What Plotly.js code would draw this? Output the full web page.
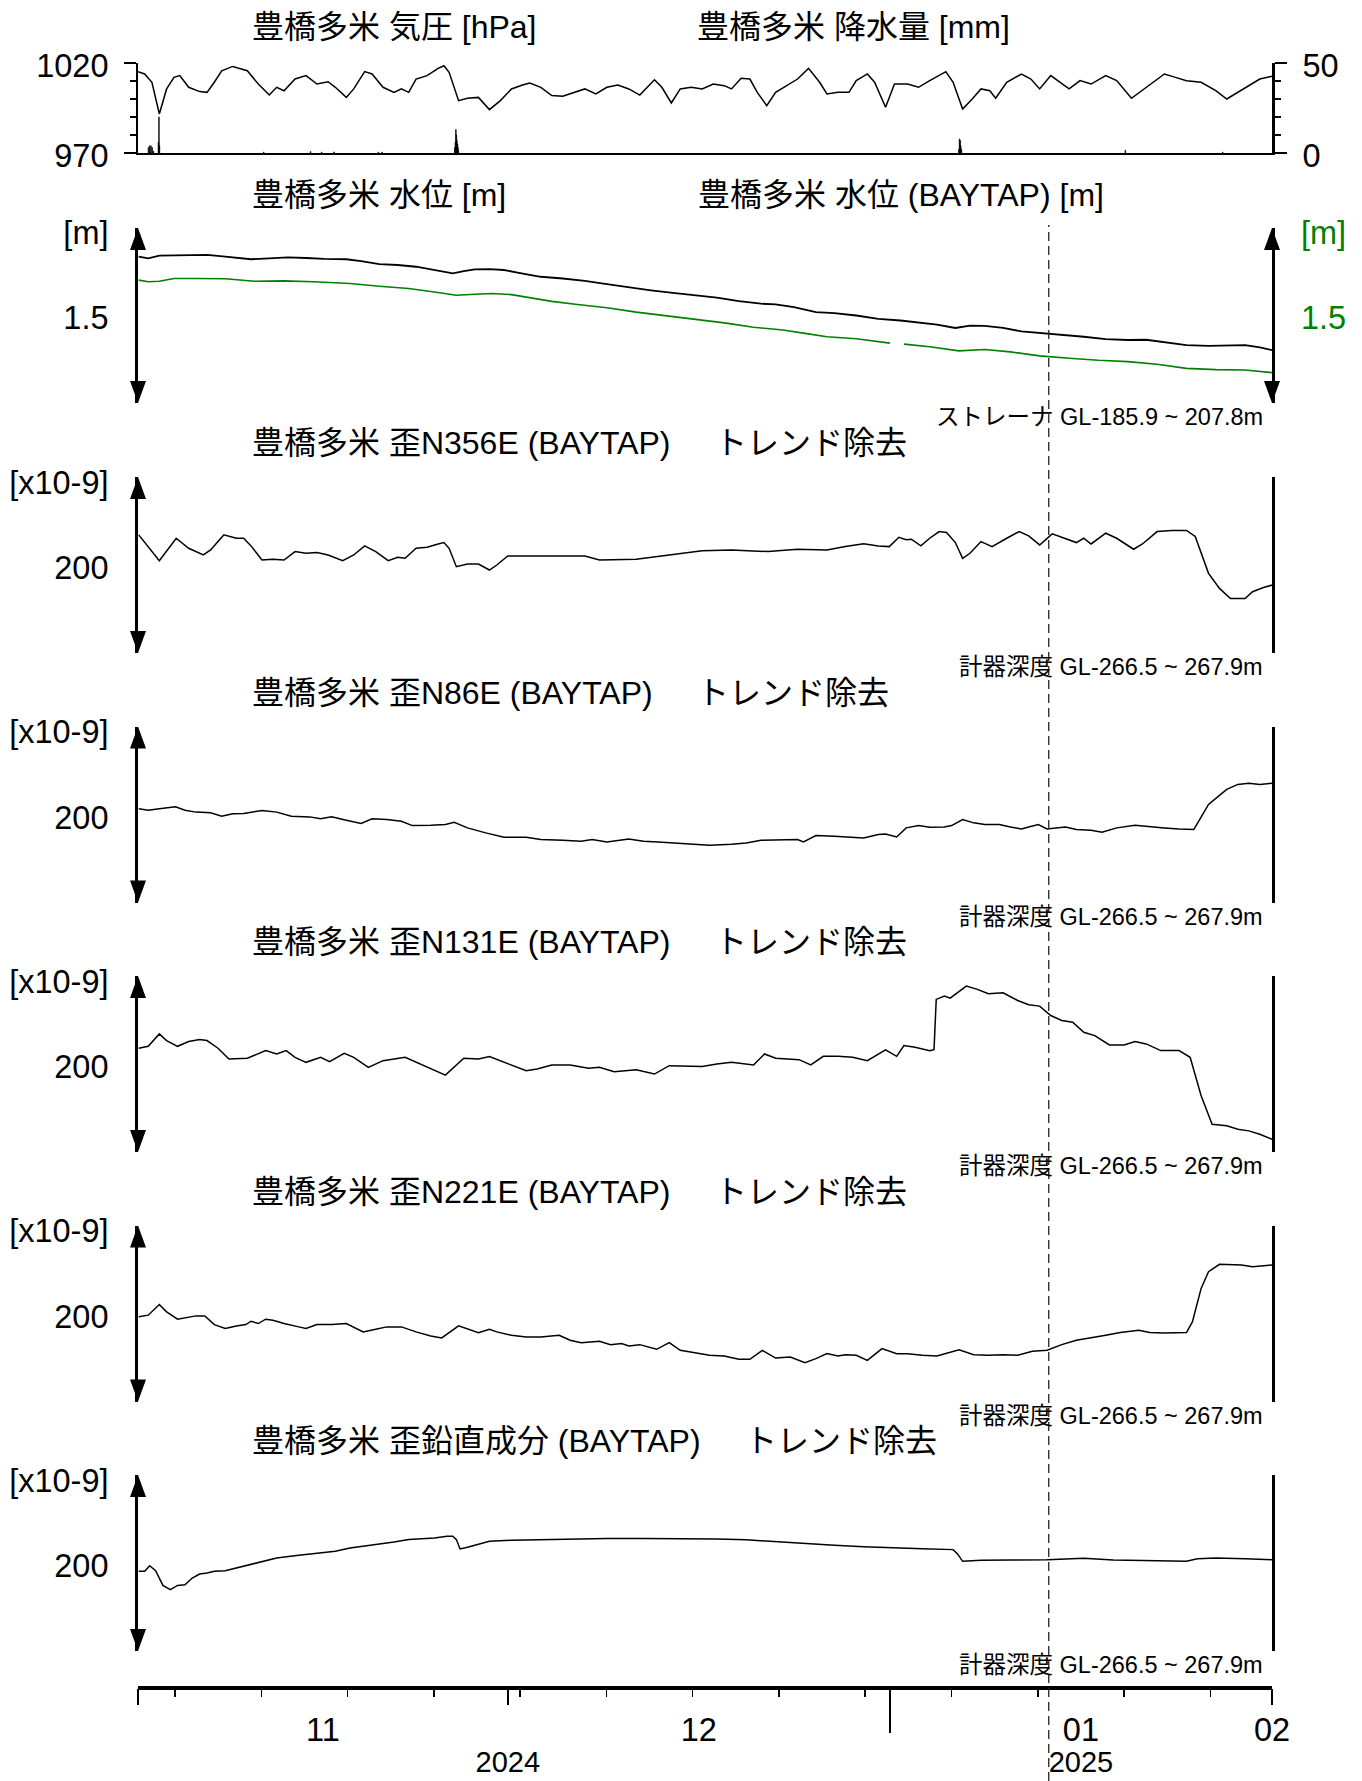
<!DOCTYPE html>
<html>
<head>
<meta charset="utf-8">
<script src="https://cdn.plot.ly/plotly-3.0.1.min.js"></script>
<style>html,body{margin:0;padding:0;background:#fff;}#chart{width:1362px;height:1781px;}</style>
</head>
<body>
<div id="chart"></div>
<script>
// ---------------- DATA (x = days after 2024-11-01 00:00 JST) ----------------
const startDate = '2024-11-01';
const endDate = '2025-02-01';
const quakeTime = '2025-01-13 21:19';

const pressDay = [0,0.54,1.13,1.73,2.32,2.92,3.39,4.11,5.0,5.6,
6.19,6.79,7.68,8.87,9.76,10.65,11.25,11.85,12.74,13.63,
14.52,15.42,16.01,16.9,17.5,18.39,18.99,19.88,20.77,21.37,
21.96,22.56,23.45,24.35,24.82,25.24,26.01,26.73,27.62,28.51,
29.4,30.3,31.19,31.79,32.68,33.57,34.46,35.36,36.25,37.14,
38.04,38.93,39.82,40.71,41.9,42.5,43.27,43.99,44.88,45.77,
46.67,47.56,48.15,48.93,49.64,50.24,51.01,51.73,52.62,53.51,
54.4,55.3,55.89,56.79,57.68,58.27,59.17,59.76,60.65,61.37,
62.44,63.33,64.23,65.0,65.54,66.13,66.9,67.68,68.39,69.11,
69.58,70.48,71.67,72.44,73.15,74.05,74.64,75.54,76.43,77.32,
78.51,79.4,80.6,81.79,82.68,83.27,84.17,85.06,86.25,87.44,
88.33,89.23,90.12,91.01,92.0];
const pressHpa = [1015.2,1013.9,1009.3,991.7,1005.6,1012.0,1013.0,1006.5,1004.1,1003.7,
1009.3,1015.7,1018.1,1015.7,1008.3,1002.2,1006.5,1004.6,1011.1,1013.0,
1008.3,1009.6,1006.5,1000.9,1005.6,1015.2,1013.9,1006.5,1003.7,1005.6,
1003.7,1011.1,1013.0,1017.0,1018.5,1014.8,999.1,1000.4,1000.9,994.1,
999.1,1005.6,1007.8,1008.9,1006.5,1001.9,1001.5,1003.7,1005.6,1002.8,
1006.5,1007.8,1005.6,1002.2,1010.7,1006.5,997.8,1005.6,1006.5,1005.6,
1008.3,1007.4,1005.6,1011.5,1011.1,1003.7,996.3,1003.7,1007.4,1011.1,
1017.0,1009.3,1002.8,1003.7,1003.7,1010.2,1013.9,1009.3,995.4,1008.3,
1008.3,1006.5,1010.2,1013.0,1015.2,1009.3,994.4,1000.0,1005.6,1004.6,
1000.4,1009.3,1013.9,1011.1,1005.6,1013.0,1010.2,1005.6,1010.2,1008.3,
1013.0,1010.2,1000.4,1006.5,1011.1,1013.9,1012.0,1010.2,1009.3,1004.6,
1000.0,1003.7,1007.4,1011.1,1012.6];

const rainDay = [0.85,0.95,1.05,1.15,1.25,1.66,1.70,1.74,10.2,14.0,
14.9,15.9,19.5,19.8,25.70,25.75,25.79,25.83,25.87,25.92,
25.96,26.0,66.60,66.65,66.70,66.75,66.80,80.1,88.0];
const rainMm = [3,4,4,3,1,6,20,4,0.5,0.8,
0.5,0.6,0.5,0.5,3,6,13,10,7,5,
3,1,2,7.8,7,4,2,1.5,0.5];

const levelDay = [0.06,0.83,1.73,2.92,4.11,5.6,7.08,9.17,10.65,12.14,
13.63,15.12,16.9,18.1,19.58,21.07,22.56,24.05,25.54,26.43,
27.32,28.51,29.7,30.89,32.68,34.46,36.25,38.04,39.82,41.61,
43.39,45.18,46.96,48.75,50.54,51.73,53.21,55.0,56.49,58.27,
60.06,61.85,63.63,64.82,66.31,67.5,68.69,70.18,71.67,73.45,
74.94,76.73,78.51,80.3,81.79,83.27,85.06,86.85,88.63,89.82,
91.01,92.02];
const levelM = [1.255,1.240,1.264,1.266,1.269,1.269,1.255,1.232,1.240,1.249,
1.243,1.235,1.232,1.217,1.191,1.183,1.168,1.140,1.111,1.131,
1.145,1.148,1.140,1.116,1.082,1.067,1.047,1.018,0.990,0.966,
0.943,0.923,0.903,0.874,0.851,0.845,0.822,0.779,0.770,0.750,
0.721,0.707,0.687,0.672,0.643,0.664,0.661,0.643,0.614,0.600,
0.586,0.568,0.548,0.540,0.542,0.519,0.496,0.490,0.496,0.496,
0.476,0.453];

const baytapDay = [0.06,0.83,1.73,2.92,4.7,7.08,9.46,11.85,14.23,17.2,
19.58,21.96,24.05,25.83,27.32,28.81,30.3,31.79,33.57,35.65,
38.04,40.42,42.8,45.18,47.56,49.94,52.32,54.11,55.89,58.27,
60.65,61.0,61.5,62.14,64.23,66.61,68.69,70.77,73.15,75.54,
77.92,80.3,82.68,85.06,87.44,89.82,92.02];
const baytapM = [1.053,1.039,1.044,1.067,1.067,1.065,1.044,1.047,1.039,1.024,
1.001,0.981,0.952,0.923,0.932,0.938,0.929,0.903,0.871,0.845,
0.816,0.779,0.750,0.721,0.687,0.649,0.626,0.597,0.568,0.551,
0.519,0.513,null,0.505,0.482,0.447,0.459,0.438,0.404,0.384,
0.366,0.355,0.332,0.297,0.286,0.283,0.260];

const n356Day = [0.06,1.73,3.10,4.11,5.30,5.89,6.96,7.98,8.57,9.17,
10.06,10.95,11.85,12.74,13.63,14.52,15.42,16.61,17.5,18.39,
19.29,20.3,21.07,21.67,22.56,23.45,24.35,24.82,25.24,25.83,
26.73,27.62,28.51,29.11,30.0,31.49,33.87,36.25,37.44,40.42,
42.2,43.99,45.77,48.15,51.13,53.51,55.89,57.38,58.87,60.06,
60.95,61.73,62.32,62.74,63.51,64.23,65.0,65.6,66.31,66.9,
67.5,68.39,69.29,70.48,71.49,72.26,73.15,74.17,75.24,76.13,
76.73,77.32,78.51,79.4,80.77,81.49,82.68,83.87,85.06,85.77,
86.85,87.74,88.63,89.82,90.42,91.31,92.02];
const n356Val = [134.2,104.9,130.4,119.0,111.4,117.1,134.2,130.4,130.4,121.7,
105.7,106.5,105.7,115.2,113.3,114.1,111.4,104.9,111.4,121.7,
115.2,104.9,108.7,107.6,119.0,120.1,123.9,125.5,119.0,98.1,
101.1,101.1,94.3,100.0,110.3,110.6,110.3,110.3,105.7,106.5,
109.5,112.5,116.3,117.1,115.2,117.9,117.1,120.9,124.0,121.7,
120.9,131.5,128.8,129.3,121.7,130.4,138.0,136.9,125.5,107.6,
113.3,126.6,120.9,130.4,138.0,133.1,122.8,135.4,130.4,125.5,
130.4,123.9,136.1,130.4,117.9,123.9,138.0,139.2,139.2,132.4,
90.5,73.4,62.0,62.0,69.6,74.5,77.2];

const n86Day = [0.06,0.83,1.73,2.62,3.04,3.81,4.70,5.89,6.79,7.68,
8.57,10.06,11.25,12.44,13.93,14.82,15.71,16.9,18.1,18.99,
20.18,21.37,22.26,23.75,24.94,25.65,26.73,28.21,29.7,31.49,
32.68,34.46,35.95,36.85,38.04,39.82,41.01,42.2,43.39,44.58,
46.37,48.15,49.35,50.54,52.32,53.51,53.99,55.0,56.49,58.27,
58.87,60.06,60.65,61.55,62.32,63.33,64.23,65.42,66.01,66.9,
67.8,68.69,69.88,70.77,71.67,72.26,73.04,73.75,75.24,76.13,
77.32,78.21,79.4,80.89,82.08,83.27,84.46,85.65,86.13,86.85,
87.74,88.33,89.23,90.12,91.01,92.02];
const n86Val = [106.5,104.9,106.5,107.6,108.7,104.9,102.7,101.9,98.1,100.8,
101.1,104.6,102.7,98.1,97.3,95.1,97.3,93.5,89.7,95.1,
94.3,92.4,87.4,87.8,88.6,91.2,84.8,79.1,74.1,74.1,
71.5,70.7,69.6,71.5,68.8,72.2,69.6,68.8,67.7,66.9,
65.0,66.2,67.7,70.7,71.5,71.5,68.8,76.0,75.3,74.1,
73.4,77.2,77.9,74.5,84.8,87.4,85.5,85.9,87.4,94.3,
90.5,88.6,88.6,85.9,83.6,85.9,88.6,83.6,85.9,82.9,
82.1,79.8,84.8,87.8,86.7,84.8,83.6,82.9,94.3,111.4,
121.7,128.5,134.2,135.4,134.2,135.4];

const n131Day = [0.06,0.83,1.73,2.32,3.21,4.11,5.0,5.6,6.49,7.38,
8.87,10.36,11.25,12.02,12.74,13.63,14.82,15.54,16.73,17.5,
18.69,19.88,21.67,22.86,23.75,24.94,26.43,27.62,28.51,29.7,
31.49,32.38,33.57,35.06,36.55,37.44,38.63,40.42,41.9,43.1,
44.58,45.77,46.96,48.15,49.94,50.83,51.73,52.92,53.63,54.58,
55.6,56.79,57.98,59.17,60.65,61.55,62.14,63.04,64.23,64.58,
64.76,65.42,65.89,67.2,68.1,68.99,70.18,71.37,72.26,73.15,
74.05,74.94,75.83,76.73,77.62,78.81,80.0,80.89,81.79,82.98,
84.46,85.36,86.25,87.14,88.33,89.23,90.12,91.01,92.02];
const n131Val = [117.9,120.1,134.2,126.6,120.1,125.5,127.7,126.6,117.9,105.7,
106.5,115.2,111.4,115.2,107.6,101.9,107.6,102.7,112.2,107.6,
96.2,103.8,107.6,100.0,94.3,87.4,106.5,105.7,108.4,101.9,
92.4,94.3,98.9,98.9,95.1,96.2,91.2,93.5,88.6,98.1,
97.3,97.3,100.0,101.9,98.9,111.4,106.5,105.7,104.9,98.9,
108.7,108.7,107.6,103.8,116.0,108.7,120.9,119.0,115.2,116.3,
173.4,177.2,174.9,188.6,184.8,179.8,181.0,172.2,167.3,165.8,
155.1,149.4,147.5,136.1,132.3,121.7,121.7,125.5,122.8,115.2,
115.2,107.6,63.9,31.6,29.7,25.9,24.0,20.2,14.4];

const n221Day = [0.06,0.83,1.73,2.32,3.21,4.11,4.70,5.42,6.19,7.08,
7.98,8.75,9.17,9.76,10.36,10.95,11.85,13.04,13.63,14.52,
15.71,16.9,17.5,18.27,19.29,20.18,21.37,22.56,23.75,24.64,
26.01,27.02,27.62,28.51,29.11,30.3,31.49,32.68,34.17,35.06,
35.95,37.44,38.33,39.23,39.82,40.71,42.08,43.1,43.99,45.18,
46.37,47.56,48.75,49.64,50.65,51.73,52.92,54.11,55.0,55.89,
56.79,57.38,58.27,59.17,60.36,61.55,62.44,63.63,64.82,66.61,
67.8,68.99,70.18,71.37,72.56,73.75,74.94,76.13,77.32,78.51,
79.7,81.19,82.08,83.27,85.06,85.54,86.25,86.85,87.74,88.63,
89.52,90.42,91.31,92.02];
const n221Val = [96.2,98.1,110.3,101.9,93.5,96.2,97.3,97.3,87.4,82.9,
85.9,87.4,91.2,88.6,93.5,92.4,88.6,84.8,82.9,87.4,
87.4,88.6,84.8,79.1,82.1,84.8,84.8,79.1,74.5,72.2,
85.9,81.0,78.3,82.1,79.1,75.3,73.4,73.4,75.3,69.6,
66.9,68.4,64.6,65.8,63.1,64.6,59.3,66.9,58.2,55.5,
52.5,51.7,47.9,47.9,58.2,49.4,50.6,44.1,48.7,54.4,
51.7,53.2,52.5,46.8,60.1,54.4,54.4,52.5,51.7,58.9,
53.2,52.5,53.2,52.5,57.0,58.2,64.6,69.6,72.2,75.3,
78.3,81.0,78.3,77.9,78.3,90.5,128.5,147.5,155.9,155.9,
155.1,153.2,154.0,155.1];

const vertDay = [0.06,0.54,0.95,1.43,2.02,2.62,3.21,3.81,4.40,5.0,
5.6,6.19,7.08,7.98,8.87,10.06,11.25,13.04,14.82,16.01,
17.2,18.99,20.77,21.96,23.15,24.05,25.06,25.54,25.83,26.13,
26.73,27.62,28.51,30.3,32.68,35.06,38.04,41.01,43.99,46.96,
49.35,51.73,54.11,56.49,58.87,61.25,63.63,66.13,66.49,66.9,
68.39,70.77,73.75,76.73,79.11,81.49,83.87,85.06,85.95,87.44,
89.82,92.02];
const vertVal = [90.5,90.5,96.9,91.2,74.5,69.6,74.5,75.3,82.9,87.4,
88.6,90.5,91.2,94.3,98.1,101.9,105.7,108.7,111.4,113.3,
117.1,120.1,123.9,126.6,127.7,128.5,130.4,130.4,126.6,116.0,
117.9,121.7,124.7,125.8,126.6,127.4,127.7,127.7,127.7,127.4,
126.3,124.0,121.7,120.1,118.6,117.1,116.3,115.2,110.3,101.9,
103.0,103.4,103.8,105.3,103.4,102.7,101.9,101.9,104.9,105.7,
104.9,103.8];

// tick / label texts
const monthLabelAt = ['2024-11-16', '2024-12-16 12:00', '2025-01-16 12:00', '2025-02-01'];
const monthLabels = ['11', '12', '01', '02'];
const yearLabelAt = ['2024-12-01', '2025-01-16 12:00'];
const yearLabels = ['2024', '2025'];
const monthStarts = ['2024-11-01', '2024-12-01', '2025-02-01'];
const yearStarts = ['2025-01-01'];
const strainTitles = ['豊橋多米 歪N356E (BAYTAP)', '豊橋多米 歪N86E (BAYTAP)', '豊橋多米 歪N131E (BAYTAP)',
                      '豊橋多米 歪N221E (BAYTAP)', '豊橋多米 歪鉛直成分 (BAYTAP)'];
const trendText = 'トレンド除去';
const depthText = '計器深度 GL-266.5 ~ 267.9m';
const strainerText = 'ストレーナ GL-185.9 ~ 207.8m';

// ---------------- LAYOUT HELPERS ----------------
const W = 1362, H = 1781;
const XL = 138, XR = 1272;
const px = p => p / W;
const py = p => 1 - p / H;
const ydom = (top, bot) => [py(bot), py(top)];
const XD = [px(XL), px(XR)];
const T0 = Date.UTC(2024, 10, 1);
const toDate = d => new Date(T0 + Math.round(d * 1440) * 60000).toISOString().slice(0, 16).replace('T', ' ');
const FONT = '"Liberation Sans", Arial, "Noto Sans CJK JP", sans-serif';
const GREEN = 'rgb(0,128,0)';
const RANGE = [startDate, endDate];
const TICKF = 32.5, TITLEF = 32, SMALLF = 23.5;

const pTop = 63, pBot = 153;
const wTop = 228, wBot = 403;
const sTops = [477, 726.5, 976, 1225.5, 1475];
const sH = 176;
const axisY = 1688;

// ---------------- TRACES ----------------
function line(days, vals, xa, ya, color, width) {
  return {type: 'scatter', mode: 'lines', x: days.map(toDate), y: vals, xaxis: xa, yaxis: ya,
          line: {color: color, width: width}, hoverinfo: 'skip', showlegend: false, connectgaps: false};
}
const traces = [
  {type: 'bar', x: rainDay.map(toDate), y: rainMm, xaxis: 'x2', yaxis: 'y2', width: 3600000 * 1.3,
   marker: {color: 'black', line: {color: 'black', width: 0.6}}, hoverinfo: 'skip', showlegend: false},
  line(pressDay, pressHpa, 'x2', 'y', 'black', 1.5),
  line(levelDay, levelM, 'x', 'y3', 'black', 1.8),
  line(baytapDay, baytapM, 'x', 'y4', GREEN, 1.6),
  line(n356Day, n356Val, 'x', 'y5', 'black', 1.5),
  line(n86Day, n86Val, 'x', 'y6', 'black', 1.5),
  line(n131Day, n131Val, 'x', 'y7', 'black', 1.5),
  line(n221Day, n221Val, 'x', 'y8', 'black', 1.5),
  line(vertDay, vertVal, 'x', 'y9', 'black', 1.5)
];
['x3', 'x4', 'x5', 'x6'].forEach(xa => traces.push({type: 'scatter', mode: 'lines', x: [], y: [], xaxis: xa, yaxis: 'y9', hoverinfo: 'skip', showlegend: false}));

// ---------------- AXES ----------------
const layout = {
  width: W, height: H, margin: {l: 0, r: 0, t: 0, b: 0}, showlegend: false,
  paper_bgcolor: 'white', plot_bgcolor: 'rgba(0,0,0,0)',
  font: {family: FONT, size: TICKF, color: 'black'},
  bargap: 0,
  xaxis: {type: 'date', domain: XD, range: RANGE, anchor: 'free', position: py(axisY),
          showline: true, linewidth: 4, linecolor: 'black', ticks: '', tickmode: 'array',
          tickvals: monthLabelAt, ticktext: monthLabels, ticklabelstandoff: 12,
          showgrid: false, zeroline: false, fixedrange: true},
  xaxis2: {type: 'date', domain: XD, range: RANGE, matches: 'x', anchor: 'y', showline: true, linewidth: 2,
           linecolor: 'black', ticks: '', showticklabels: false, showgrid: false, zeroline: false},
  xaxis3: {type: 'date', range: RANGE, overlaying: 'x', anchor: 'free', position: py(axisY),
           tickmode: 'array', tickvals: monthStarts, ticks: 'outside', ticklen: 16, tickwidth: 1.5,
           tickcolor: 'black', showticklabels: false, showline: false, showgrid: false, zeroline: false},
  xaxis4: {type: 'date', range: RANGE, overlaying: 'x', anchor: 'free', position: py(axisY),
           tickmode: 'linear', tick0: '2024-11-04', dtick: 7 * 86400000, ticks: 'outside', ticklen: 8,
           tickwidth: 1.5, tickcolor: 'black', showticklabels: false, showline: false, showgrid: false, zeroline: false},
  xaxis5: {type: 'date', range: RANGE, overlaying: 'x', anchor: 'free', position: py(axisY),
           tickmode: 'array', tickvals: yearStarts, ticks: 'outside', ticklen: 44, tickwidth: 1.5,
           tickcolor: 'black', showticklabels: false, showline: false, showgrid: false, zeroline: false},
  xaxis6: {type: 'date', range: RANGE, overlaying: 'x', anchor: 'free', position: py(axisY),
           tickmode: 'array', tickvals: yearLabelAt, ticktext: yearLabels, ticks: '', ticklabelstandoff: 54,
           tickfont: {size: 29}, showline: false, showgrid: false, zeroline: false},
  yaxis: {domain: ydom(pTop, pBot), range: [970, 1020], anchor: 'x2', tickmode: 'array', tickvals: [970, 1020],
          ticks: 'outside', ticklen: 12, tickwidth: 1.5, tickcolor: 'black', showline: true, linewidth: 2,
          linecolor: 'black', minor: {ticks: 'outside', ticklen: 6, dtick: 10, tickwidth: 1.5, tickcolor: 'black', showgrid: false},
          ticklabelshift: 3, ticklabelstandoff: 9, showgrid: false, zeroline: false},
  yaxis2: {overlaying: 'y', side: 'right', anchor: 'x2', range: [0, 50], tickmode: 'array', tickvals: [0, 50],
           ticks: 'outside', ticklen: 12, tickwidth: 1.5, tickcolor: 'black', showline: true, linewidth: 3,
           linecolor: 'black', minor: {ticks: 'outside', ticklen: 6, dtick: 10, tickwidth: 1.5, tickcolor: 'black', showgrid: false},
           ticklabelshift: 3, ticklabelstandoff: 9, showgrid: false, zeroline: false},
  yaxis3: {domain: ydom(wTop, wBot), range: [0, 1.5], anchor: 'x', tickmode: 'array', tickvals: [1.457, 0.729],
           ticktext: ['[m]', '1.5'], ticks: '', showline: true, linewidth: 3, linecolor: 'black', mirror: true,
           ticklabelstandoff: 20, showgrid: false, zeroline: false},
  yaxis4: {overlaying: 'y3', side: 'right', anchor: 'x', range: [0, 1.5], tickmode: 'array', tickvals: [1.457, 0.729],
           ticktext: ['[m]', '1.5'], ticks: '', tickfont: {color: GREEN}, showline: false,
           ticklabelstandoff: 28, showgrid: false, zeroline: false},
  annotations: [], shapes: []
};
sTops.forEach((top, i) => {
  layout['yaxis' + (i + 5)] = {domain: ydom(top, top + sH), range: [0, 200], anchor: 'x', tickmode: 'array',
    tickvals: [194, 97], ticktext: ['[x10-9]', '200'], ticks: '', showline: true, linewidth: 3,
    linecolor: 'black', mirror: true, ticklabelstandoff: 20, showgrid: false, zeroline: false};
});

// ---------------- TEXT ----------------
function note(text, xpx, ypx, anchor, size, color) {
  layout.annotations.push({text: text, xref: 'paper', yref: 'paper', x: px(xpx), y: py(ypx),
    xanchor: anchor, yanchor: 'middle', showarrow: false, font: {family: FONT, size: size, color: color || 'black'}});
}
note('豊橋多米 気圧 [hPa]', 250, 27, 'left', TITLEF);
note('豊橋多米 降水量 [mm]', 695, 27, 'left', TITLEF);
note('豊橋多米 水位 [m]', 250, 195, 'left', TITLEF);
note('豊橋多米 水位 (BAYTAP) [m]', 696, 195, 'left', TITLEF);
note(strainerText, 1265, wBot + 14, 'right', SMALLF);
const trendX = [713, 695, 713, 713, 743];
sTops.forEach((top, i) => {
  note(strainTitles[i], 250, top - 34, 'left', TITLEF);
  note(trendText, trendX[i], top - 34, 'left', TITLEF);
  note(depthText, 1265, top + sH + 14, 'right', SMALLF);
});

// ---------------- ARROWHEADS & EARTHQUAKE LINE ----------------
function head(xp, yTip, dir) { // dir = +1 pointing up, -1 pointing down
  const hh = 22, hw = 8;
  const yb = yTip + dir * hh;
  const path = `M ${px(xp)} ${py(yTip)} L ${px(xp - hw)} ${py(yb)} L ${px(xp + hw)} ${py(yb)} Z`;
  layout.shapes.push({type: 'path', xref: 'paper', yref: 'paper', path: path, fillcolor: 'black', line: {width: 0}});
}
[XL, XR].forEach(xp => { head(xp, wTop, 1); head(xp, wBot, -1); });
sTops.forEach(top => { head(XL, top, 1); head(XL, top + sH, -1); });
layout.shapes.push({type: 'line', xref: 'x', yref: 'paper', x0: quakeTime, x1: quakeTime, y0: 0, y1: py(225),
  line: {color: '#222', width: 1.3, dash: '9px,5px'}});

Plotly.newPlot('chart', traces, layout, {displayModeBar: false, staticPlot: true});
</script>
</body>
</html>
